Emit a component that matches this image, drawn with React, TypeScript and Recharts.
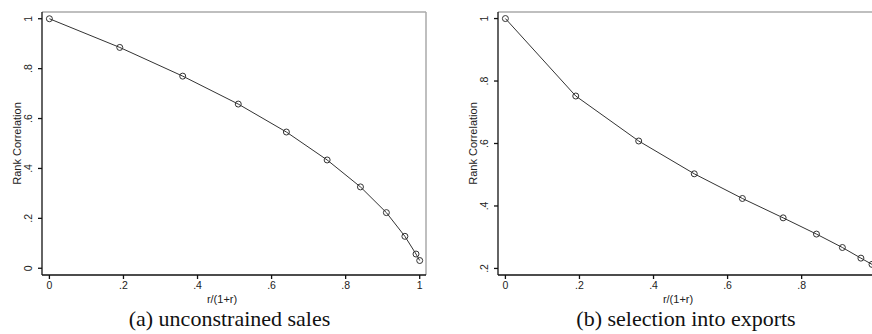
import { LineChart, Line, XAxis, YAxis, ReferenceLine } from 'recharts'

// r/(1+r) grid and the two rank-correlation curves
const shareR = [0, 0.19, 0.36, 0.51, 0.64, 0.75, 0.84, 0.91, 0.96, 0.99, 1.0]
const salesCorr = [1.0, 0.885, 0.77, 0.658, 0.546, 0.434, 0.326, 0.223, 0.128, 0.057, 0.031]
const exportCorr = [1.0, 0.752, 0.608, 0.503, 0.424, 0.362, 0.31, 0.267, 0.233, 0.213, 0.205]

// panel (b) is cropped on the right in the source, so its "1" tick is not shown
const salesXTicks = [0, 0.2, 0.4, 0.6, 0.8, 1]
const exportXTicks = [0, 0.2, 0.4, 0.6, 0.8]
const salesTicks = [0, 0.2, 0.4, 0.6, 0.8, 1]
const exportTicks = [0.2, 0.4, 0.6, 0.8, 1]

const xDomain: [number, number] = [-0.02, 1.017]
const salesDomain: [number, number] = [-0.027, 1.027]
const exportDomain: [number, number] = [0.179, 1.021]

const SANS = '"Liberation Sans", Arial, sans-serif'
const INK = '#333'

const stata = (v: number) => (v === 0 ? '0' : v === 1 ? '1' : String(+v.toFixed(2)).replace(/^0\./, '.'))

function RotTick({ x, y, payload }: any) {
  return (
    <text
      x={x}
      y={y}
      transform={`rotate(-90 ${x} ${y})`}
      textAnchor="middle"
      fontSize={10.5}
      fontFamily={SANS}
      fill="#222"
    >
      {stata(payload.value)}
    </text>
  )
}

function Panel({ ys, xTicks, ticks, domain, width, yWidth }: {
  ys: number[]; xTicks: number[]; ticks: number[]; domain: [number, number]; width: number; yWidth: number
}) {
  const data = shareR.map((x, i) => ({ x, y: ys[i] }))
  return (
    <LineChart width={width} height={334} data={data} margin={{ top: 12, right: 10, bottom: 29, left: 0 }}>
      <XAxis
        dataKey="x"
        type="number"
        domain={xDomain}
        ticks={xTicks}
        allowDataOverflow
        tickFormatter={stata}
        tickSize={4}
        tickMargin={3}
        height={30}
        stroke="#111"
        strokeWidth={1.3}
        tick={{ fontSize: 10.5, fontFamily: SANS, fill: '#222' }}
        label={({ viewBox }: any) => (
          <text
            x={viewBox.x + viewBox.width / 2 - 12}
            y={viewBox.y + 28}
            textAnchor="middle"
            fontSize={11}
            fontFamily={SANS}
            fill="#222"
          >
            r/(1+r)
          </text>
        )}
      />
      <YAxis
        type="number"
        domain={domain}
        ticks={ticks}
        allowDataOverflow
        width={yWidth}
        tickSize={4}
        tickMargin={6}
        stroke="#111"
        strokeWidth={1.3}
        tick={<RotTick />}
        label={({ viewBox }: any) => {
          const cx = viewBox.x + viewBox.width - 21
          const cy = viewBox.y + viewBox.height / 2
          return (
            <text
              x={cx}
              y={cy}
              transform={`rotate(-90 ${cx} ${cy})`}
              textAnchor="middle"
              fontSize={11}
              fontFamily={SANS}
              fill="#222"
            >
              Rank Correlation
            </text>
          )
        }}
      />
      <ReferenceLine y={domain[1]} stroke="#aaa" strokeWidth={1.5} />
      <ReferenceLine x={xDomain[1]} stroke="#aaa" strokeWidth={1.5} />
      <Line
        dataKey="y"
        stroke={INK}
        strokeWidth={1}
        dot={{ r: 3, stroke: INK, strokeWidth: 1, fill: 'none' }}
        isAnimationActive={false}
      />
    </LineChart>
  )
}

const captionStyle = {
  position: 'absolute' as const,
  top: 308,
  width: 300,
  textAlign: 'center' as const,
  fontFamily: '"Liberation Serif", "Times New Roman", serif',
  fontSize: 22,
  lineHeight: '22px',
  color: '#111',
}

export default function App() {
  return (
    <div style={{ position: 'absolute', left: 0, top: 0, width: 872, height: 334, overflow: 'hidden', background: '#fff' }}>
      <div style={{ position: 'absolute', left: 0, top: 0 }}>
        <Panel ys={salesCorr} xTicks={salesXTicks} ticks={salesTicks} domain={salesDomain} width={436} yWidth={42} />
      </div>
      <div style={{ position: 'absolute', left: 436, top: 0 }}>
        <Panel ys={exportCorr} xTicks={exportXTicks} ticks={exportTicks} domain={exportDomain} width={456} yWidth={62} />
      </div>
      <div style={{ ...captionStyle, left: 229.5 - 150 }}>(a) unconstrained sales</div>
      <div style={{ ...captionStyle, left: 686 - 150 }}>(b) selection into exports</div>
    </div>
  )
}
